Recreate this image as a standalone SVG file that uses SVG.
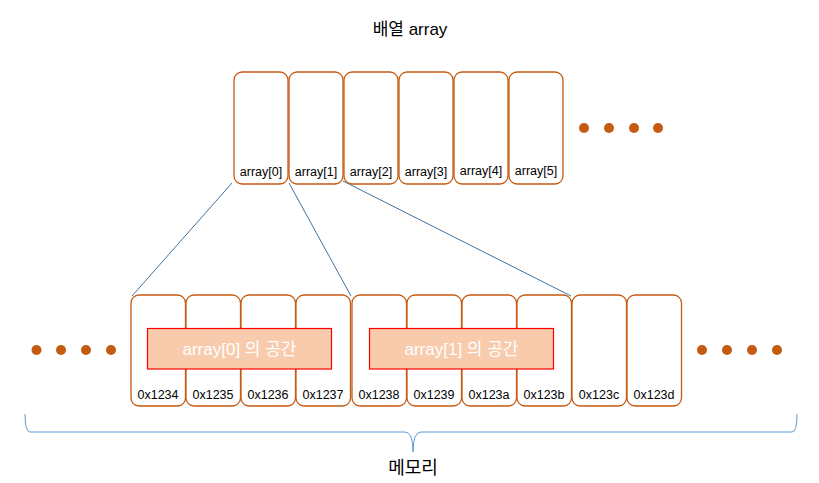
<svg xmlns="http://www.w3.org/2000/svg" width="819" height="483" viewBox="0 0 819 483">
<style>
.cell{fill:#fff;stroke:#C55A11;stroke-width:1.3}
.lbl{font-family:"Liberation Sans","Noto Sans CJK KR",sans-serif;font-size:12.5px;fill:#000;text-anchor:middle}
.sp{fill:#F8CBAD;stroke:#FF0000;stroke-width:1.2}
.spt{font-family:"Liberation Sans","Noto Sans CJK KR",sans-serif;font-size:17px;fill:#fff;text-anchor:middle}
.dot{fill:#C55A11}
.conn{stroke:#41719C;stroke-width:1;fill:none}
.title{font-family:"Liberation Sans","Noto Sans CJK KR",sans-serif;font-size:17px;fill:#000;text-anchor:middle}
</style>
<rect width="819" height="483" fill="#fff"/>
<text class="title" x="410" y="35">배열 array</text>
<g id="connectors">
<line class="conn" x1="232" y1="183" x2="132" y2="296"/>
<line class="conn" x1="289" y1="183" x2="351" y2="296"/>
<line class="conn" x1="343" y1="181" x2="571" y2="296"/>
</g>
<g id="array">
<g id="a0"><rect class="cell" x="234" y="72" width="54" height="112" rx="8"/><text class="lbl" x="261" y="176">array[0]</text></g>
<g id="a1"><rect class="cell" x="289" y="72" width="54" height="112" rx="8"/><text class="lbl" x="316" y="176">array[1]</text></g>
<g id="a2"><rect class="cell" x="344" y="72" width="54" height="112" rx="8"/><text class="lbl" x="371" y="176">array[2]</text></g>
<g id="a3"><rect class="cell" x="399" y="72" width="54" height="112" rx="8"/><text class="lbl" x="426" y="176">array[3]</text></g>
<g id="a4"><rect class="cell" x="454" y="72" width="54" height="112" rx="8"/><text class="lbl" x="481" y="175">array[4]</text></g>
<g id="a5"><rect class="cell" x="509" y="72" width="54" height="112" rx="8"/><text class="lbl" x="536" y="175">array[5]</text></g>
</g>
<g id="dots-top"><circle class="dot" cx="584" cy="128" r="5"/><circle class="dot" cx="609" cy="128" r="5"/><circle class="dot" cx="634" cy="128" r="5"/><circle class="dot" cx="658" cy="128" r="5"/></g>
<g id="memory">
<g id="m0"><rect class="cell" x="131" y="295" width="54.5" height="111" rx="8"/><text class="lbl" x="158" y="399">0x1234</text></g>
<g id="m1"><rect class="cell" x="186" y="295" width="54.5" height="111" rx="8"/><text class="lbl" x="213" y="399">0x1235</text></g>
<g id="m2"><rect class="cell" x="241" y="295" width="54.5" height="111" rx="8"/><text class="lbl" x="268" y="399">0x1236</text></g>
<g id="m3"><rect class="cell" x="296" y="295" width="54.5" height="111" rx="8"/><text class="lbl" x="323" y="399">0x1237</text></g>
<g id="m4"><rect class="cell" x="352" y="295" width="54.5" height="111" rx="8"/><text class="lbl" x="379" y="399">0x1238</text></g>
<g id="m5"><rect class="cell" x="407" y="295" width="54.5" height="111" rx="8"/><text class="lbl" x="434" y="399">0x1239</text></g>
<g id="m6"><rect class="cell" x="462" y="295" width="54.5" height="111" rx="8"/><text class="lbl" x="489" y="399">0x123a</text></g>
<g id="m7"><rect class="cell" x="517" y="295" width="54.5" height="111" rx="8"/><text class="lbl" x="544" y="399">0x123b</text></g>
<g id="m8"><rect class="cell" x="572" y="295" width="54.5" height="111" rx="8"/><text class="lbl" x="599" y="399">0x123c</text></g>
<g id="m9"><rect class="cell" x="627" y="295" width="54.5" height="111" rx="8"/><text class="lbl" x="654" y="399">0x123d</text></g>
</g>
<g id="space0"><rect class="sp" x="147.5" y="328.5" width="184" height="40.5"/><text class="spt" x="239.5" y="355">array[0] 의 공간</text></g>
<g id="space1"><rect class="sp" x="369.5" y="328.5" width="184" height="40.5"/><text class="spt" x="461.5" y="355">array[1] 의 공간</text></g>
<g id="dots-left"><circle class="dot" cx="36.5" cy="350" r="5"/><circle class="dot" cx="61" cy="350" r="5"/><circle class="dot" cx="86" cy="350" r="5"/><circle class="dot" cx="111" cy="350" r="5"/></g>
<g id="dots-right"><circle class="dot" cx="702" cy="350" r="5"/><circle class="dot" cx="727" cy="350" r="5"/><circle class="dot" cx="752" cy="350" r="5"/><circle class="dot" cx="777" cy="350" r="5"/></g>
<g id="brace"><path d="M25,414 Q25,432 30,432 L405,432 Q413,432 413,452 Q413,432 421,432 L792,432 Q797,432 797,414" fill="none" stroke="#5B9BD5" stroke-width="1"/></g>
<text class="title" x="413" y="474" style="font-size:18px">메모리</text>
</svg>
